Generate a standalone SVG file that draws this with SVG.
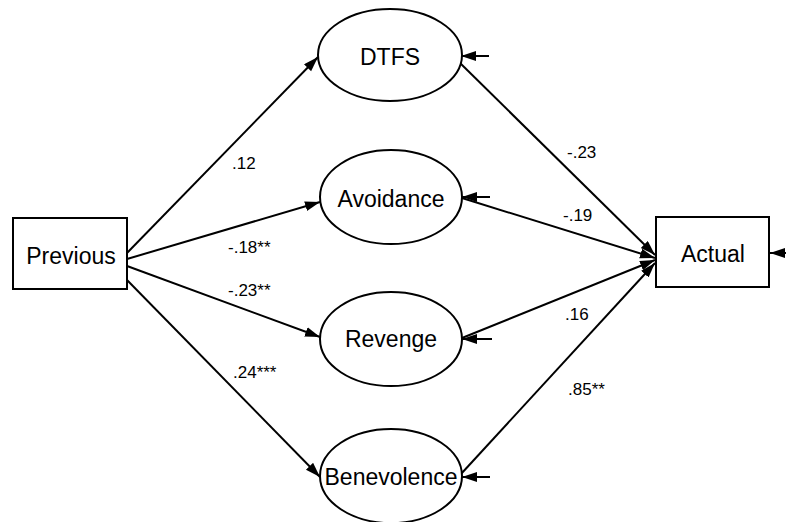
<svg xmlns="http://www.w3.org/2000/svg" width="786" height="522" viewBox="0 0 786 522">
<style>
.node{fill:#fff;stroke:#000;stroke-width:2}
.lbl{font-family:"Liberation Sans",Arial,sans-serif;font-size:23px;fill:#000;text-anchor:middle}
.coef{font-family:"Liberation Sans",Arial,sans-serif;font-size:17px;fill:#000}
.edge{fill:none;stroke:#000;stroke-width:2;marker-end:url(#ah)}
</style>
<defs>
<marker id="ah" markerUnits="userSpaceOnUse" markerWidth="16" markerHeight="11" refX="15" refY="5" orient="auto">
<path d="M0,0 L15,5 L0,10 Z" fill="#000"/>
</marker>
</defs>
<rect width="786" height="522" fill="#fff"/>
<g id="connectors">
<line class="edge" x1="127" y1="253" x2="318" y2="57"/>
<line class="edge" x1="127" y1="259" x2="320" y2="202"/>
<line class="edge" x1="127" y1="266" x2="320" y2="337"/>
<line class="edge" x1="127" y1="280" x2="320" y2="477"/>
<line class="edge" x1="459" y1="62" x2="655" y2="255"/>
<line class="edge" x1="462" y1="198" x2="655" y2="258"/>
<line class="edge" x1="462" y1="338" x2="655" y2="260"/>
<line class="edge" x1="461" y1="474" x2="655" y2="263"/>
<line class="edge" x1="489" y1="56" x2="461" y2="56"/>
<line class="edge" x1="490" y1="197" x2="462" y2="197"/>
<line class="edge" x1="492" y1="339" x2="462" y2="339"/>
<line class="edge" x1="490" y1="477" x2="462" y2="477"/>
<line class="edge" x1="800" y1="253" x2="770" y2="253"/>
</g>
<g id="Previous">
<rect class="node" x="13" y="218" width="114" height="71"/>
<text class="lbl" x="71" y="264">Previous</text>
</g>
<g id="Actual">
<rect class="node" x="656" y="217" width="113" height="70"/>
<text class="lbl" x="713" y="262">Actual</text>
</g>
<g id="DTFS">
<ellipse class="node" cx="390" cy="55" rx="72" ry="46"/>
<text class="lbl" x="390" y="65">DTFS</text>
</g>
<g id="Avoidance">
<ellipse class="node" cx="391" cy="197" rx="71" ry="47"/>
<text class="lbl" x="391" y="207">Avoidance</text>
</g>
<g id="Revenge">
<ellipse class="node" cx="391" cy="339" rx="71" ry="47"/>
<text class="lbl" x="391" y="347">Revenge</text>
</g>
<g id="Benevolence">
<ellipse class="node" cx="391" cy="476" rx="71" ry="47"/>
<text class="lbl" x="391" y="485">Benevolence</text>
</g>
<g id="coefficients">
<text class="coef" x="232" y="169">.12</text>
<text class="coef" x="228" y="253">-.18**</text>
<text class="coef" x="228" y="296">-.23**</text>
<text class="coef" x="233" y="378">.24***</text>
<text class="coef" x="567" y="158">-.23</text>
<text class="coef" x="563" y="221">-.19</text>
<text class="coef" x="565" y="320">.16</text>
<text class="coef" x="568" y="395">.85**</text>
</g>
</svg>
